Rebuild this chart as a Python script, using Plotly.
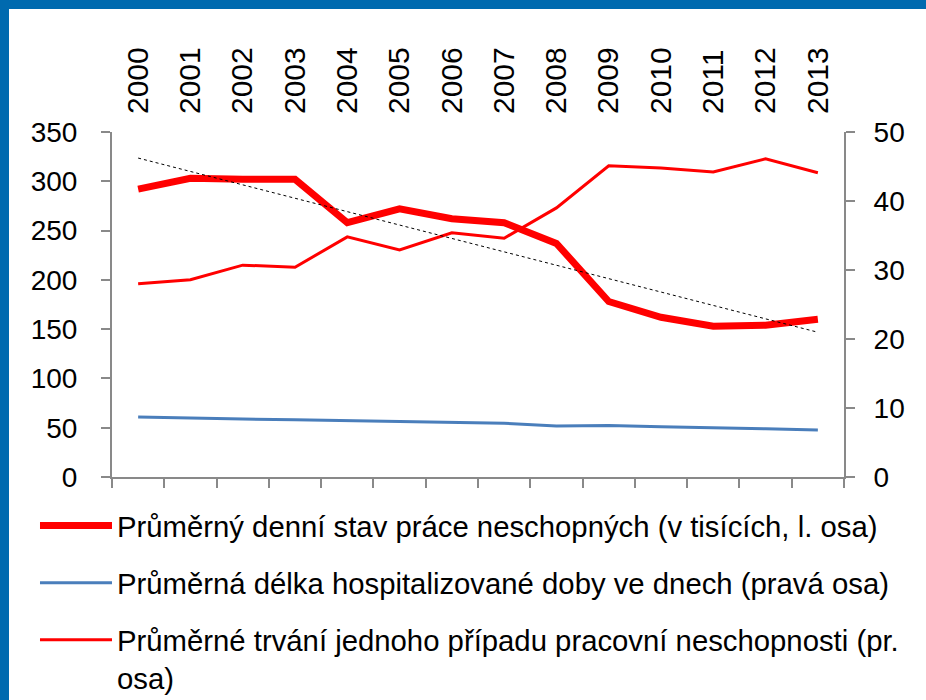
import numpy as np
import plotly.graph_objects as go

# ---- data ----
years = list(range(2000, 2014))
year_labels = [str(y) for y in years]
denni_stav = [292, 303, 302, 302, 258, 272, 262, 258, 237, 178, 162, 153, 154, 160]
hospitalizace = [8.7, 8.5, 8.4, 8.3, 8.2, 8.0, 7.9, 7.8, 7.4, 7.45, 7.3, 7.2, 7.0, 6.8]
trvani = [28.0, 28.6, 30.7, 30.4, 34.8, 32.9, 35.4, 34.6, 39.0, 45.1, 44.8, 44.2, 46.1, 44.1]

name1 = "Průměrný denní stav práce neschopných (v tisících, l. osa)"
name2 = "Průměrná délka hospitalizované doby ve dnech (pravá osa)"
name3 = "Průměrné trvání jednoho případu pracovní neschopnosti (pr.<br>osa)"

# linear trend of the left-axis series
coef = np.polyfit(np.arange(len(years)), denni_stav, 1)
trend = np.polyval(coef, np.arange(len(years)))

FONT = "Liberation Sans, Arial, sans-serif"
GRAY = "#898989"
BLUE_FRAME = "#006AAF"

fig = go.Figure()
fig.add_trace(go.Scatter(x=years, y=denni_stav, name=name1, mode="lines",
                         line=dict(color="#FF0000", width=7), legendgroup="a",
                         xaxis="x", yaxis="y"))
fig.add_trace(go.Scatter(x=years, y=hospitalizace, name=name2, mode="lines",
                         line=dict(color="#4A7EBB", width=3), legendgroup="b",
                         xaxis="x", yaxis="y2"))
fig.add_trace(go.Scatter(x=years, y=trvani, name=name3, mode="lines",
                         line=dict(color="#FF0000", width=3), legendgroup="c",
                         xaxis="x", yaxis="y2"))
fig.add_trace(go.Scatter(x=years, y=trend, mode="lines", showlegend=False,
                         line=dict(color="#000000", width=1, dash="dot"),
                         xaxis="x2", yaxis="y"))

tick_font = dict(family=FONT, size=28, color="#000000")
axis_common = dict(showgrid=False, zeroline=False, showline=True, linecolor=GRAY,
                   linewidth=2, ticks="outside", ticklen=9, tickwidth=2,
                   tickcolor=GRAY, tickfont=tick_font, automargin=False)

fig.update_layout(
    width=926, height=700, autosize=False,
    paper_bgcolor="white", plot_bgcolor="white",
    margin=dict(l=112, r=82, t=132, b=223, autoexpand=False),
    font=dict(family=FONT, size=28, color="#000000"),
    xaxis=dict(range=[1999.5, 2013.5], tickmode="linear", tick0=1999.5, dtick=1,
               showticklabels=False, **axis_common),
    xaxis2=dict(range=[1999.5, 2013.5], overlaying="x", side="top", anchor="y",
                tickmode="array", tickvals=years, ticktext=year_labels,
                tickangle=-90, ticks="", showline=False, showgrid=False,
                zeroline=False, automargin=False, ticklabelstandoff=17,
                tickfont=dict(family=FONT, size=30, color="#000000")),
    yaxis=dict(range=[0, 350], tickmode="linear", tick0=0, dtick=50,
               ticklabelstandoff=18, **axis_common),
    yaxis2=dict(range=[0, 50], tickmode="linear", tick0=0, dtick=10,
                overlaying="y", side="right", anchor="x",
                ticklabelstandoff=13, **axis_common),
    legend=dict(x=-0.1052, y=-0.0667,
                xanchor="left", yanchor="top", traceorder="grouped",
                tracegroupgap=16, itemwidth=72, valign="top",
                font=dict(family=FONT, size=29.3, color="#000000"),
                bgcolor="rgba(0,0,0,0)"),
    shapes=[
        dict(type="rect", xref="paper", yref="paper",
             x0=-0.16, x1=1.12, y0=(477 - 9) / 345, y1=1.40,
             fillcolor=BLUE_FRAME, line=dict(width=0), layer="above"),
        dict(type="rect", xref="paper", yref="paper",
             x0=-0.16, x1=(9 - 112) / 732, y0=-0.70, y1=1.40,
             fillcolor=BLUE_FRAME, line=dict(width=0), layer="above"),
    ],
)

fig.write_html("out.html", config={"displayModeBar": False},
               post_script="document.body.style.margin='0px';")
